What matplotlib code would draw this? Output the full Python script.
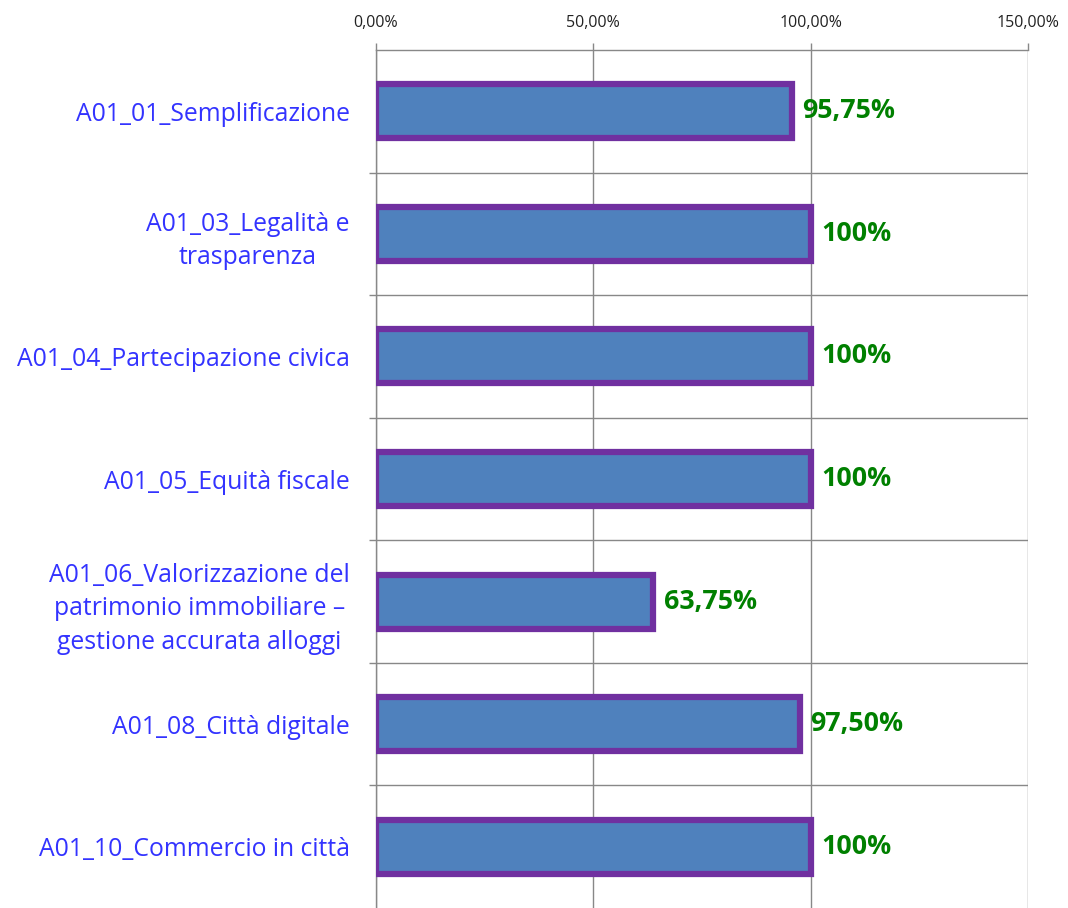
import matplotlib
matplotlib.use("Agg")
import matplotlib.pyplot as plt
from matplotlib.ticker import FuncFormatter
import numpy as np

categories = [
    "A01_01_Semplificazione",
    "A01_03_Legalità e\ntrasparenza",
    "A01_04_Partecipazione civica",
    "A01_05_Equità fiscale",
    "A01_06_Valorizzazione del\npatrimonio immobiliare –\ngestione accurata alloggi",
    "A01_08_Città digitale",
    "A01_10_Commercio in città",
]
values = [95.75, 100, 100, 100, 63.75, 97.5, 100]
value_labels = ["95,75%", "100%", "100%", "100%", "63,75%", "97,50%", "100%"]
x_ticks = [0, 50, 100, 150]

plt.rcParams["font.family"] = ["Open Sans", "DejaVu Sans"]

fig = plt.figure(figsize=(10.68, 9.08), dpi=100)
ax = fig.add_axes([376 / 1068, 0.0, (1028 - 376) / 1068, 1 - 50 / 908])

n = len(categories)
y = np.arange(n)
ax.barh(y, values, height=0.44, color="#4F81BD", edgecolor="#7030A0",
        linewidth=4.5, zorder=3)

for yi, v, lab in zip(y, values, value_labels):
    ax.annotate(lab, xy=(v, yi), xytext=(7.5, 0), textcoords="offset points",
                va="center", ha="left", color="#008000", fontsize=19.3,
                fontweight="bold", zorder=4)

ax.set_xlim(0, 150)
ax.set_ylim(n - 0.5, -0.5)
ax.xaxis.tick_top()
ax.set_xticks(x_ticks)
ax.xaxis.set_major_formatter(FuncFormatter(lambda v, p: f"{v:.2f}".replace(".", ",") + "%"))
ax.tick_params(axis="x", which="major", length=5, width=1, color="#888888",
               labelsize=11.5, labelcolor="#222222", pad=9, direction="out")

ax.set_yticks(y)
ax.set_yticklabels(categories, color="#3333FF", fontsize=17.8, ha="right",
                   multialignment="center", linespacing=1.45)
ax.tick_params(axis="y", which="major", length=0, pad=19)
ax.set_yticks(np.arange(0.5, n - 0.5, 1), minor=True)
ax.tick_params(axis="y", which="minor", length=5, width=1, color="#888888",
               direction="out")

ax.grid(axis="x", which="major", color="#888888", linewidth=1, zorder=0)
ax.grid(axis="y", which="minor", color="#888888", linewidth=1, zorder=0)
ax.grid(axis="y", which="major", visible=False)

for side in ["right", "bottom"]:
    ax.spines[side].set_visible(False)
for side in ["top", "left"]:
    ax.spines[side].set_color("#888888")
    ax.spines[side].set_linewidth(1)

fig.savefig("out.png", dpi=100, facecolor="white")
